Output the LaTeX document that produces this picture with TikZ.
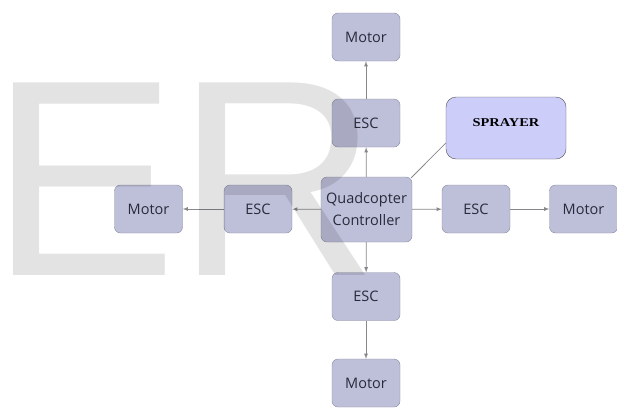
\documentclass[tikz,border=0pt]{standalone}
\usepackage{fontspec}
\setsansfont{Open Sans}
\newfontfamily\markfont{Liberation Sans}
\newfontfamily\sprayfont[FakeStretch=1.2]{Liberation Serif}

\definecolor{boxfill}{RGB}{190,192,217}
\definecolor{boxline}{RGB}{135,137,160}
\definecolor{boxtext}{RGB}{40,42,60}
\definecolor{sprayfill}{RGB}{205,205,250}
\definecolor{linkgray}{RGB}{135,135,140}

\begin{document}
\begin{tikzpicture}[x=1pt, y=-1pt]
          \tikzstyle{block}=[draw=boxline, fill=boxfill, rounded corners=6pt, inner sep=0pt, minimum width=68pt, minimum height=48pt, text=boxtext, font=\sffamily\fontsize{14.5}{22}\selectfont, align=center]
          \tikzstyle{sprayerbox}=[draw=black!70, fill=sprayfill, rounded corners=10pt, inner sep=0pt, minimum width=120pt, minimum height=62pt, text depth=10pt, font=\sprayfont\bfseries\fontsize{12}{14}\selectfont]
          \tikzstyle{link}=[draw=linkgray, line width=0.8pt]

          \useasboundingbox (0,0) rectangle (617,408);

          \node (ctrl) at (366.5, 209.5) [block, minimum width=91pt, minimum height=65pt] {Quadcopter\\Controller};
          \node (escN) at (366, 123) [block] {ESC};
          \node (motN) at (366, 37) [block] {Motor};
          \node (escW) at (258, 209) [block] {ESC};
          \node (motW) at (148.5, 209) [block] {Motor};
          \node (escE) at (476, 209) [block] {ESC};
          \node (motE) at (583.5, 209) [block] {Motor};
          \node (escS) at (366, 296.5) [block] {ESC};
          \node (motS) at (366, 383) [block] {Motor};
          \node (spray) at (506, 128) [sprayerbox] {SPRAYER};

          \draw[link, -latex] (ctrl) to (escN);
          \draw[link, -latex] (escN) to (motN);
          \draw[link, -latex] (ctrl) to (escW);
          \draw[link, -latex] (escW) to (motW);
          \draw[link, -latex] (ctrl) to (escE);
          \draw[link, -latex] (escE) to (motE);
          \draw[link, -latex] (ctrl) to (escS);
          \draw[link, -latex] (escS) to (motS);
          \draw[link] (ctrl.north east) ++(-1,1) coordinate (ctrlcorner);
          \draw[link] (ctrlcorner) to (spray.west |- 0,143);

          % watermark
          \node (mark) at (-10, 275) [anchor=base west, inner sep=0pt, text=black, text opacity=0.11, font=\markfont\fontsize{280}{280}\selectfont] {ER};
        \end{tikzpicture}
\end{document}
